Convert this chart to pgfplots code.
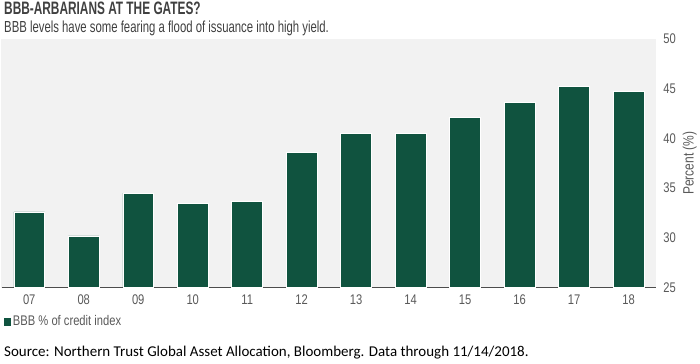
\documentclass[border=0pt]{standalone}
\usepackage{fontspec}
\setmainfont{Liberation Sans}[FakeStretch=0.8]
\newfontfamily\ttlfont{Liberation Sans}[FakeStretch=0.66]
\newfontfamily\subfont{Liberation Sans}[FakeStretch=0.71]
\newfontfamily\srcfont{Carlito}
\usepackage{pgfplots}
\pgfplotsset{compat=1.18}
\definecolor{barg}{HTML}{10533F}
\definecolor{bgc}{HTML}{F2F2F2}
\definecolor{txt}{HTML}{595959}
\definecolor{ttl}{HTML}{404040}
\begin{document}
\begin{tikzpicture}[x=1pt,y=1pt]
\path (0,0) rectangle (700,364);
\begin{axis}[at={(2pt,76pt)}, anchor=south west, width=655pt, height=249pt, scale only axis,
  xmin=-0.5, xmax=11.5, ymin=25, ymax=50,
  axis background/.style={fill=bgc},
  axis x line=bottom, axis y line=right,
  x axis line style={-, draw=black!70, line width=0.8pt},
  y axis line style={draw=none},
  major tick length=0pt,
  xtick={0,...,11}, xticklabels={07,08,09,10,11,12,13,14,15,16,17,18},
  ytick={25,30,...,50},
  tick label style={font=\fontsize{14}{16}\selectfont, text=txt},
  /pgf/number format/assume math mode=true,
  xticklabel style={yshift=-4pt},
  yticklabel style={xshift=4pt},
  ylabel={Percent (\%)},
  ylabel style={font=\fontsize{15}{17}\selectfont, text=txt},
  ybar, bar width=31pt,
  legend style={at={(0.002,-0.137)}, anchor=west, draw=none, fill=none, font=\fontsize{14}{16}\selectfont, text=txt, inner sep=0pt},
  legend image code/.code={\fill[barg] (0pt,-3.5pt) rectangle (7pt,3.5pt);},
]
\draw[black!40, line width=1pt] (rel axis cs:0,0) -- (rel axis cs:0,1);
\addplot[fill=barg, draw=white, line width=0.5pt] coordinates {
(0,32.6) (1,30.2) (2,34.5) (3,33.5) (4,33.7) (5,38.6) (6,40.5) (7,40.5) (8,42.1) (9,43.6) (10,45.2) (11,44.7)};
\addlegendentry{BBB \% of credit index}
\end{axis}
\node[anchor=base west, inner sep=0pt, text=ttl, font=\ttlfont\fontsize{18}{21}\selectfont\bfseries] at (4,349) {BBB-ARBARIANS AT THE GATES?};
\node[anchor=base west, inner sep=0pt, text=ttl, font=\subfont\fontsize{16}{19}\selectfont] at (4,331) {BBB levels have some fearing a flood of issuance into high yield.};
\node[anchor=base west, inner sep=0pt, text=black, font=\srcfont\fontsize{15}{18}\selectfont] at (4,7) {Source: Northern Trust Global Asset Allocation, Bloomberg. Data through 11/14/2018.};
\end{tikzpicture}
\end{document}
